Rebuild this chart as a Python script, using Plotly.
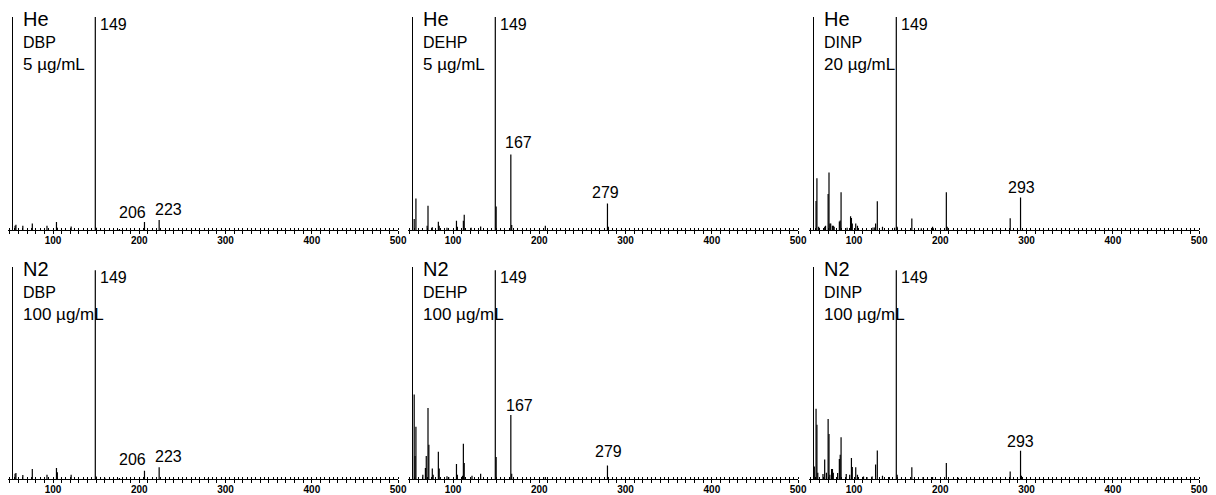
import plotly.graph_objects as go

# ---------------- data (m/z, relative intensity %) ----------------
he_dbp_mz = [56, 57, 65, 76, 93, 104, 105, 121, 149, 150, 177, 206, 223]
he_dbp_int = [2.0, 2.5, 2.0, 3.0, 2.0, 3.7, 1.0, 1.7, 100, 1.0, 0.5, 3.8, 4.7]

he_dehp_mz = [55, 57, 70, 71, 76, 83, 84, 93, 104, 105, 112, 113, 121, 132, 149, 150, 167, 168, 207, 279, 280]
he_dehp_int = [5.2, 14.8, 2.0, 11.4, 1.3, 3.9, 2.0, 1.0, 4.4, 1.5, 4.4, 7.2, 1.0, 1.6, 100, 11.0, 35.5, 2.3, 2.0, 12.5, 1.5]

he_dinp_mz = [56, 57, 59, 66, 67, 70, 71, 72, 73, 75, 76, 77, 83, 84, 85, 92, 96, 97, 98, 102, 104,
              122, 124, 125, 127, 133, 147, 149, 150, 167, 178, 191, 192, 207, 208, 281, 293]
he_dinp_int = [13.6, 24.3, 1.5, 1.5, 2.0, 16.9, 27.0, 3.0, 3.0, 2.0, 2.0, 1.5, 4.0, 4.5, 17.7, 1.0, 6.5, 5.6, 3.0, 3.0, 2.0,
               1.2, 1.2, 3.0, 13.5, 1.5, 1.0, 100, 1.5, 5.4, 0.8, 1.5, 0.8, 17.7, 1.5, 5.5, 15.2]

n2_dbp_mz = [56, 57, 65, 76, 93, 104, 105, 121, 149, 150, 160, 177, 206, 223, 280]
n2_dbp_int = [2.5, 2.9, 1.9, 4.8, 2.0, 5.3, 3.2, 2.0, 100, 1.2, 0.6, 0.5, 4.0, 5.6, 0.4]

n2_dehp_mz = [55, 56, 57, 65, 68, 69, 71, 72, 76, 77, 83, 84, 93, 95, 104, 105, 111, 112, 113, 122, 132,
              149, 150, 167, 168, 207, 279]
n2_dehp_int = [40.5, 11.0, 25.0, 2.0, 5.3, 11.0, 34.0, 16.4, 5.0, 2.0, 13.0, 5.0, 1.3, 1.0, 7.2, 2.0, 1.5, 16.9, 7.7, 1.6, 2.5,
               100, 10.5, 30.7, 2.5, 1.0, 6.5]

n2_dinp_mz = [54, 56, 57, 58, 64, 66, 68, 70, 71, 72, 74, 75, 76, 81, 83, 84, 85, 91, 95, 97, 98, 102, 104,
              111, 115, 121, 125, 127, 133, 141, 149, 150, 167, 180, 191, 207, 221, 281, 293, 294]
n2_dinp_int = [6.0, 33.6, 26.0, 3.0, 2.4, 9.3, 3.0, 28.7, 21.5, 2.0, 4.8, 4.8, 3.0, 2.9, 9.6, 11.6, 20.0, 2.4, 2.0, 10.0, 5.7, 5.6, 2.0,
               1.2, 1.0, 1.2, 6.9, 13.6, 1.5, 1.0, 100, 2.0, 5.6, 1.0, 1.0, 7.7, 0.6, 3.6, 13.5, 1.5]

gases = ["He", "He", "He", "N2", "N2", "N2"]
compounds = ["DBP", "DEHP", "DINP", "DBP", "DEHP", "DINP"]
concentrations = ["5 µg/mL", "5 µg/mL", "20 µg/mL", "100 µg/mL", "100 µg/mL", "100 µg/mL"]
spectra = [(he_dbp_mz, he_dbp_int), (he_dehp_mz, he_dehp_int), (he_dinp_mz, he_dinp_int),
           (n2_dbp_mz, n2_dbp_int), (n2_dehp_mz, n2_dehp_int), (n2_dinp_mz, n2_dinp_int)]
labelled = [[149, 206, 223], [149, 167, 279], [149, 293],
            [149, 206, 223], [149, 167, 279], [149, 293]]
tick_values = list(range(50, 501, 10))
tick_labels = [str(v) if v % 100 == 0 else "" for v in tick_values]

# ---------------- styling / layout ----------------
W, H = 1216, 495
FONT = "Liberation Sans, Arial, sans-serif"
x_starts = [8.15, 408.15, 809.15]      # px
x_width = 390.0
rows_px = [(17, 230), (267, 479)]       # (top, bottom) px
y_tops = [100, 101.5]
yline_off = 3.5

# label offsets (px): (dx, dy) for centred labels; 149 handled separately
lab_off = {
    (0, 206): (-12, 9.5), (0, 223): (9.5, 10),
    (1, 167): (7.5, 11.8), (1, 279): (-1.8, 11.3),
    (2, 293): (0.8, 10.5),
    (3, 206): (-12, 11.5), (3, 223): (9.5, 10.5),
    (4, 167): (8.3, 9.7), (4, 279): (0.7, 14),
    (5, 293): (0, 9.2),
}

fig = go.Figure()
layout = dict(width=W, height=H, margin=dict(l=0, r=0, t=0, b=0),
              paper_bgcolor="white", plot_bgcolor="white", showlegend=False,
              font=dict(family=FONT, color="black"))
annotations = []

for i in range(6):
    row, col = divmod(i, 3)
    sfx = "" if i == 0 else str(i + 1)
    xs, ys = [], []
    mz, inten = spectra[i]
    for m, v in zip(mz, inten):
        xs += [m, m, None]
        ys += [0, v, None]
    fig.add_trace(go.Scatter(x=xs, y=ys, mode="lines", line=dict(color="black", width=1.2),
                             xaxis="x" + sfx, yaxis="y" + sfx, hoverinfo="skip"))
    x0 = x_starts[col] / W
    x1 = (x_starts[col] + x_width) / W
    top, bot = rows_px[row]
    y0 = 1 - bot / H
    y1 = 1 - top / H
    layout["xaxis" + sfx] = dict(domain=[x0, x1], anchor="y" + sfx, range=[48, 500],
                                 showline=True, linecolor="black", linewidth=1,
                                 showgrid=False, zeroline=False,
                                 tickmode="array", tickvals=tick_values, ticktext=tick_labels,
                                 ticks="outside", ticklen=3, tickwidth=1, tickcolor="black",
                                 ticklabelstandoff=-2,
                                 tickfont=dict(family=FONT, size=10, color="black", weight="bold"),
                                 minor=dict(ticks="inside", ticklen=2, tickwidth=1, tickcolor="black",
                                            tick0=0, dtick=5, showgrid=False),
                                 automargin=False, fixedrange=True)
    layout["yaxis" + sfx] = dict(domain=[y0, y1], anchor="free",
                                 position=(x_starts[col] + yline_off) / W,
                                 range=[0, y_tops[row]], showline=True, linecolor="black", linewidth=1,
                                 showgrid=False, zeroline=False, showticklabels=False, ticks="",
                                 automargin=False, fixedrange=True)
    # header text
    for txt, size, dy in [(gases[i], 20, -2), (compounds[i], 16, -25.5), (concentrations[i], 17, -47.5)]:
        annotations.append(dict(text=txt, xref="x" + sfx + " domain", yref="y" + sfx + " domain", x=0, y=1,
                                xanchor="left", yanchor="middle", xshift=13, yshift=dy,
                                showarrow=False, font=dict(family=FONT, size=size, color="black")))
    # peak labels
    for m in labelled[i]:
        v = inten[mz.index(m)]
        if m == 149:
            annotations.append(dict(text="149", xref="x" + sfx, yref="y" + sfx, x=m, y=v,
                                    xanchor="left", yanchor="middle", xshift=3, yshift=-7.5,
                                    showarrow=False, font=dict(family=FONT, size=16, color="black")))
        else:
            dx, dy = lab_off[(i, m)]
            annotations.append(dict(text=str(m), xref="x" + sfx, yref="y" + sfx, x=m, y=v,
                                    xanchor="center", yanchor="middle", xshift=dx, yshift=dy,
                                    showarrow=False, font=dict(family=FONT, size=16, color="black")))

layout["annotations"] = annotations
fig.update_layout(**layout)
fig.write_html("out.html")
